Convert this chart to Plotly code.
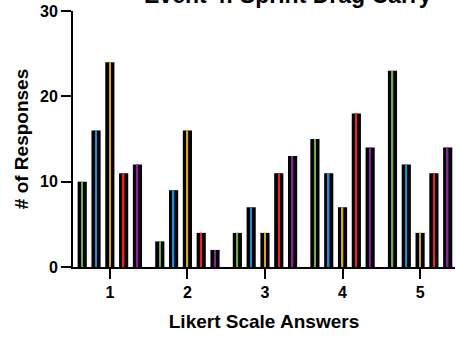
import plotly.graph_objects as go

categories = [1, 2, 3, 4, 5]
series_names = ["Green", "Blue", "Yellow", "Red", "Purple"]
series_colors = ["#6fae45", "#1b8fd6", "#d9a520", "#ee2222", "#8e1f9e"]
values = [
    [10, 3, 4, 15, 23],
    [16, 9, 7, 11, 12],
    [24, 16, 4, 7, 4],
    [11, 4, 11, 18, 11],
    [12, 2, 13, 14, 14],
]
offsets = [-0.356, -0.178, 0.0, 0.178, 0.356]

fig = go.Figure()
for name, color, vals, off in zip(series_names, series_colors, values, offsets):
    xs = [c + off for c in categories]
    fig.add_trace(go.Bar(x=xs, y=vals, width=0.118, marker=dict(color="black", line=dict(width=0)),
                         showlegend=False, name=name, hoverinfo="skip"))
    fig.add_trace(go.Bar(x=xs, y=vals, width=0.02, marker=dict(color=color, line=dict(width=0)),
                         showlegend=False, name=name))

fam = "Liberation Sans, Arial"
tick_font = dict(family=fam, size=16, color="black")
fig.update_layout(
    barmode="overlay",
    width=456, height=337,
    margin=dict(l=73, r=1, t=11, b=70),
    plot_bgcolor="white", paper_bgcolor="white",
    font=dict(family=fam, color="black"),
)
fig.add_annotation(text="<b>Event 4: Sprint Drag Carry</b>", xref="paper", yref="paper",
                   x=0.564, y=1.0, yanchor="middle", yshift=16, showarrow=False,
                   font=dict(family=fam, size=23, color="black"))
fig.update_xaxes(range=[0.525, 5.45], tickvals=categories, ticktext=[f"<b>{c}</b>" for c in categories],
                 ticks="outside", ticklen=10, tickwidth=2, tickcolor="black",
                 showline=True, linewidth=2, linecolor="black", showgrid=False, zeroline=False,
                 tickfont=tick_font,
                 title=dict(text="<b>Likert Scale Answers</b>", font=dict(family=fam, size=19), standoff=14))
fig.update_yaxes(range=[0, 30], tickvals=[0, 10, 20, 30], ticktext=["<b>0</b>", "<b>10</b>", "<b>20</b>", "<b>30</b>"],
                 ticks="outside", ticklen=10, tickwidth=2, tickcolor="black",
                 showline=True, linewidth=2, linecolor="black", showgrid=False, zeroline=False,
                 tickfont=tick_font,
                 title=dict(text="<b># of Responses</b>", font=dict(family=fam, size=19), standoff=6))

fig.write_html("out.html")
